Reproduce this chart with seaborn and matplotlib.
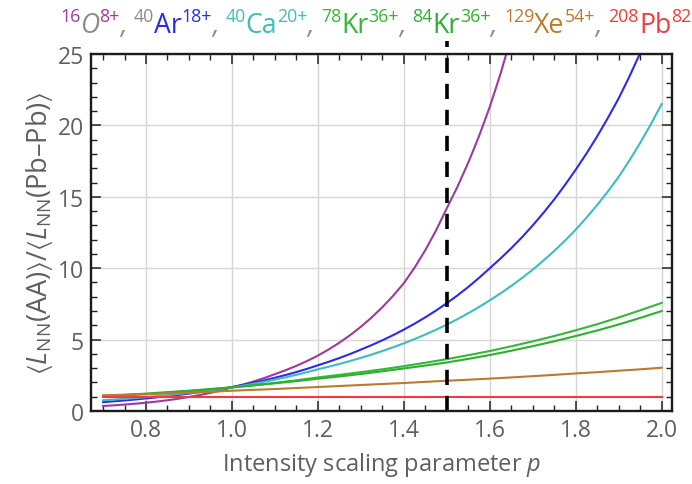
import matplotlib
matplotlib.use("Agg")
import matplotlib.pyplot as plt
from matplotlib.ticker import MultipleLocator
import pandas as pd
import seaborn as sns

# Intensity scaling parameter p (fine grid for the steep curves)
p_fine = [0.700, 0.725, 0.750, 0.775, 0.800, 0.825, 0.850, 0.875, 0.900,
          0.925, 0.950, 0.975, 1.000, 1.025, 1.050, 1.075, 1.100, 1.125,
          1.150, 1.175, 1.200, 1.225, 1.250, 1.275, 1.300, 1.325, 1.350,
          1.375, 1.400, 1.425, 1.450, 1.475, 1.500, 1.525, 1.550, 1.575,
          1.600, 1.625, 1.650, 1.675, 1.700, 1.725, 1.750, 1.775, 1.800,
          1.825, 1.850, 1.875, 1.900, 1.925, 1.950, 1.975, 2.000]
p_coarse = [0.70, 0.75, 0.80, 0.85, 0.90, 0.95, 1.00, 1.05, 1.10, 1.15,
            1.20, 1.25, 1.30, 1.35, 1.40, 1.45, 1.50, 1.55, 1.60, 1.65,
            1.70, 1.75, 1.80, 1.85, 1.90, 1.95, 2.00]

# <L_NN(AA)> / <L_NN(Pb-Pb)> for each beam species
o16 = [0.35, 0.397, 0.451, 0.511, 0.58, 0.661, 0.754, 0.860, 0.98, 1.116,
       1.271, 1.448, 1.65, 1.845, 2.063, 2.307, 2.58, 2.857, 3.164, 3.504,
       3.88, 4.308, 4.784, 5.312, 5.9, 6.548, 7.268, 8.067, 8.95, 10.04,
       11.27, 12.65, 14.2, 15.72, 17.40, 19.25, 21.3, 23.62, 26.2]
ar40 = [0.62, 0.677, 0.739, 0.806, 0.88, 0.955, 1.036, 1.124, 1.22, 1.322,
        1.432, 1.551, 1.68, 1.823, 1.978, 2.147, 2.33, 2.522, 2.731, 2.956,
        3.2, 3.445, 3.710, 3.994, 4.3, 4.614, 4.951, 5.312, 5.7, 6.115,
        6.560, 7.038, 7.55, 8.100, 8.689, 9.322, 10.0, 10.68, 11.40, 12.17,
        13.0, 13.88, 14.82, 15.83, 16.9, 18.03, 19.24, 20.53, 21.9, 23.43,
        25.07, 26.82, 28.7]
ca40 = [0.75, 0.800, 0.853, 0.910, 0.97, 1.038, 1.110, 1.187, 1.27, 1.356,
        1.448, 1.545, 1.65, 1.773, 1.905, 2.047, 2.2, 2.361, 2.535, 2.721,
        2.92, 3.102, 3.296, 3.502, 3.72, 3.952, 4.199, 4.461, 4.74, 5.038,
        5.355, 5.692, 6.05, 6.437, 6.848, 7.285, 7.75, 8.239, 8.759, 9.312,
        9.9, 10.54, 11.21, 11.93, 12.7, 13.54, 14.43, 15.38, 16.4, 17.55,
        18.78, 20.09, 21.5]
kr78 = [1.00, 1.09, 1.18, 1.29, 1.40, 1.52, 1.65, 1.80, 1.97, 2.15,
        2.35, 2.53, 2.72, 2.92, 3.14, 3.38, 3.63, 3.91, 4.20, 4.53,
        4.88, 5.25, 5.65, 6.08, 6.55, 7.05, 7.57]
kr84 = [1.05, 1.13, 1.22, 1.32, 1.42, 1.54, 1.66, 1.79, 1.94, 2.09,
        2.26, 2.42, 2.59, 2.78, 2.98, 3.18, 3.40, 3.65, 3.92, 4.22,
        4.54, 4.88, 5.25, 5.64, 6.06, 6.52, 7.00]
xe129 = [1.10, 1.14, 1.18, 1.23, 1.28, 1.34, 1.42, 1.48, 1.54, 1.61,
         1.68, 1.75, 1.82, 1.89, 1.96, 2.04, 2.12, 2.19, 2.27, 2.35,
         2.44, 2.53, 2.63, 2.72, 2.82, 2.92, 3.03]
pb208 = [1.00] * len(p_coarse)

species = ["O16", "Ar40", "Ca40", "Kr78", "Kr84", "Xe129", "Pb208"]
series = [(p_fine, o16), (p_fine, ar40), (p_fine, ca40), (p_coarse, kr78),
          (p_coarse, kr84), (p_coarse, xe129), (p_coarse, pb208)]

# header labels: mass number, element symbol, charge state
mass_numbers = ["16", "40", "40", "78", "84", "129", "208"]
symbols = ["O", "Ar", "Ca", "Kr", "Kr", "Xe", "Pb"]
charges = ["8+", "18+", "20+", "36+", "36+", "54+", "82+"]

reference_p = 1.5

colors = {
    "O16": "#9b3b9b",
    "Ar40": "#2b2bea",
    "Ca40": "#3dbdbd",
    "Kr78": "#34b834",
    "Kr84": "#2fae2f",
    "Xe129": "#bb7a30",
    "Pb208": "#f03c3c",
}

rows = []
for name, (grid, vals) in zip(species, series):
    for p, v in zip(grid, vals):
        rows.append({"p": p, "ratio": v, "species": name})
df = pd.DataFrame(rows)

FONT = ["Open Sans", "DejaVu Sans"]
plt.rcParams.update({
    "font.family": FONT,
    "mathtext.fontset": "custom",
    "mathtext.rm": "Open Sans",
    "mathtext.it": "Open Sans:italic",
    "mathtext.bf": "Open Sans:bold",
    "mathtext.sf": "Open Sans",
    "mathtext.fallback": "stixsans",
    "xtick.direction": "in",
    "ytick.direction": "in",
    "xtick.top": True,
    "xtick.bottom": True,
    "ytick.left": True,
    "ytick.right": True,
    "xtick.major.size": 7,
    "ytick.major.size": 7,
    "xtick.minor.size": 4,
    "ytick.minor.size": 4,
    "xtick.major.width": 1.1,
    "ytick.major.width": 1.1,
    "xtick.minor.width": 1.0,
    "ytick.minor.width": 1.0,
    "xtick.color": "#222222",
    "ytick.color": "#222222",
    "xtick.labelcolor": "#5f5f5f",
    "ytick.labelcolor": "#5f5f5f",
    "xtick.labelsize": 16.5,
    "ytick.labelsize": 16.5,
    "xtick.major.pad": 5,
    "ytick.major.pad": 5,
    "axes.axisbelow": "line",
})

GRAY = "#5f5f5f"

fig = plt.figure(figsize=(6.92, 4.85), dpi=100)
ax = fig.add_axes([91 / 692, 73 / 485, 581 / 692, 357 / 485])

sns.lineplot(data=df, x="p", y="ratio", hue="species", hue_order=species,
             palette=colors, linewidth=1.5, legend=False, ax=ax)

ax.axvline(reference_p, ymin=0, ymax=1.036, color="black", linewidth=2.6,
           dashes=(4.2, 3.0), clip_on=False, zorder=5)

ax.set_xlim(0.672, 2.024)
ax.set_ylim(0, 25)
ax.set_xticks([0.8, 1.0, 1.2, 1.4, 1.6, 1.8, 2.0])
ax.set_xticklabels(["0.8", "1.0", "1.2", "1.4", "1.6", "1.8", "2.0"])
ax.xaxis.set_minor_locator(MultipleLocator(0.05))
ax.yaxis.set_major_locator(MultipleLocator(5))
ax.yaxis.set_minor_locator(MultipleLocator(1))

ax.grid(True, which="major", color="#d6d6d6", linewidth=1.0)
for s in ax.spines.values():
    s.set_color("#1a1a1a")
    s.set_linewidth(1.7)
    s.set_zorder(6)

ax.set_xlabel(r"Intensity scaling parameter $p$", fontsize=17, color=GRAY,
              labelpad=6)
ax.set_ylabel(r"$\langle L_{\mathrm{NN}}(\mathrm{AA})\rangle/"
              r"\langle L_{\mathrm{NN}}(\mathrm{Pb–Pb})\rangle$",
              fontsize=19.5, color=GRAY, labelpad=2)

# coloured header listing the beam species
fig.canvas.draw()
renderer = fig.canvas.get_renderer()
header_colors = [colors[s] for s in species]
mass_colors = [colors["O16"], "#8c8c8c", colors["Ca40"], colors["Kr78"],
               colors["Kr84"], colors["Xe129"], colors["Pb208"]]
symbol_colors = ["#8c8c8c"] + header_colors[1:]

x = 60 / 692
base = 1 - 33 / 485
sup = 1 - 22 / 485


def put(text, x, y, size, color, style="normal"):
    t = fig.text(x, y, text, fontsize=size, color=color, fontstyle=style,
                 ha="left", va="baseline", family=FONT)
    return x + t.get_window_extent(renderer).width / fig.bbox.width


for i in range(len(species)):
    x = put(mass_numbers[i], x, sup, 12.8, mass_colors[i])
    x = put(symbols[i], x, base, 19.2, symbol_colors[i],
            "italic" if symbols[i] == "O" else "normal")
    x = put(charges[i], x, sup, 12.8, header_colors[i])
    if i < len(species) - 1:
        x = put(", ", x, base, 19.2, "#8c8c8c", "italic")

fig.savefig("out.png", dpi=100)
